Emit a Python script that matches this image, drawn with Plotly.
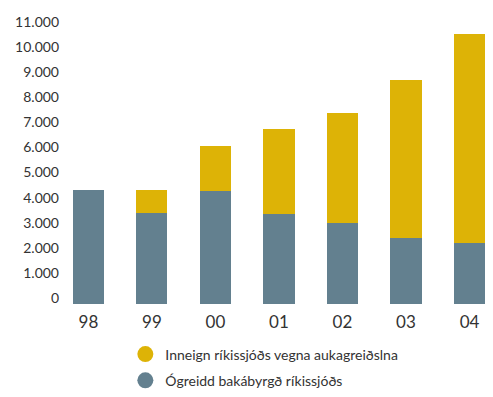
import plotly.graph_objects as go

# Ár (tveggja stafa) og upphæðir
years = ["98", "99", "00", "01", "02", "03", "04"]
ogreidd = [4550, 3630, 4500, 3590, 3230, 2630, 2430]
inneign = [0, 920, 1800, 3390, 4390, 6300, 8340]

y_ticks = list(range(0, 11001, 1000))
y_labels = ["0"] + [f"{v // 1000}.000" for v in y_ticks[1:]]

name_inneign = "Inneign ríkissjóðs vegna aukagreiðslna"
name_ogreidd = "Ógreidd bakábyrgð ríkissjóðs"

YELLOW = "#DDB306"
GREY = "#63808F"
TEXT = "#333333"
FONT = "Lato"

fig = go.Figure()
fig.add_trace(go.Bar(x=years, y=ogreidd, marker=dict(color=GREY, line=dict(width=0)),
                     name=name_ogreidd, showlegend=False))
fig.add_trace(go.Bar(x=years, y=inneign, marker=dict(color=YELLOW, line=dict(width=0)),
                     name=name_inneign, showlegend=False))

# Hringlaga tákn í skýringu
fig.add_trace(go.Scatter(x=[None], y=[None], mode="markers", name=name_inneign,
                         marker=dict(color=YELLOW, size=18, symbol="circle"),
                         legendgroup="a"))
fig.add_trace(go.Scatter(x=[None], y=[None], mode="markers", name=name_ogreidd,
                         marker=dict(color=GREY, size=18, symbol="circle"),
                         legendgroup="b"))

fig.update_layout(
    width=493, height=397,
    margin=dict(l=63, r=0, t=28, b=93),
    barmode="stack",
    bargap=0.51,
    plot_bgcolor="white",
    paper_bgcolor="white",
    font=dict(family=FONT, color=TEXT, size=14),
    legend=dict(x=0.145, y=-0.125, xanchor="left", yanchor="top",
                font=dict(family=FONT, size=14, color=TEXT),
                tracegroupgap=5, bgcolor="rgba(0,0,0,0)"),
    xaxis=dict(type="category", range=[-0.40, 6.37], showgrid=False,
               zeroline=False, showline=False, ticks="",
               tickfont=dict(size=17, color=TEXT), ticklabelstandoff=6),
    yaxis=dict(range=[0, 11000], tickvals=y_ticks, ticktext=y_labels,
               showgrid=False, zeroline=False, showline=False, ticks="",
               tickfont=dict(size=14, color=TEXT), ticklabelshift=-6,
               ticklabelstandoff=3),
)

fig.write_html("out.html")
